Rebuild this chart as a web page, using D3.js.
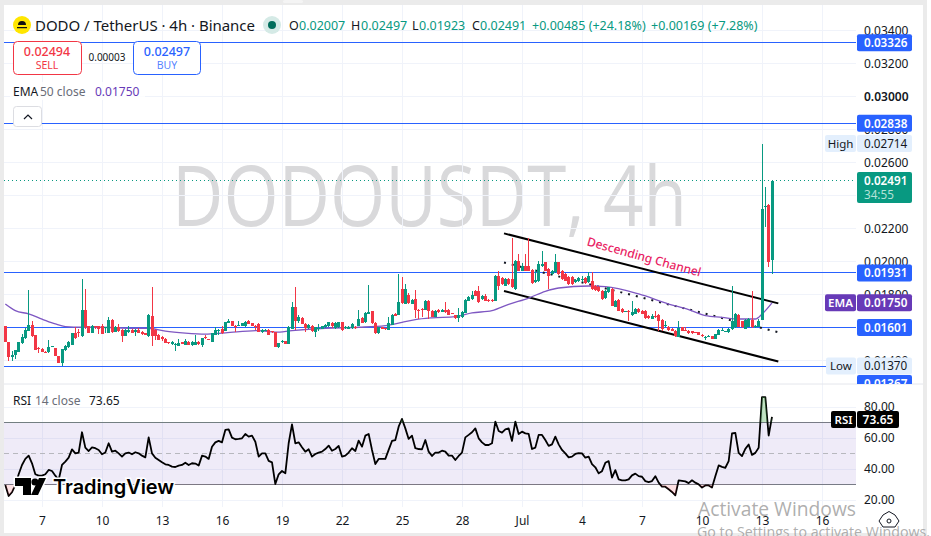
<!DOCTYPE html>
<html>
  <head>
    <meta charset="UTF-8">
    <title>DODOUSDT 4h</title>
    <style>
      html, body {margin: 0; padding: 0; background: #fff; overflow: hidden}
      svg {display: block; font-family: "Noto Sans", "Open Sans", sans-serif}
      .tick line {display: none}
      .domain {display: none}
      .axis text {font-size: 12px; fill: #131722; font-family: "Noto Sans", sans-serif}
    </style>
  </head>
  <body>
    <div id="chart"></div>
    <script src="https://d3js.org/d3.v7.min.js"></script>
    <script>

// prices are in units of 0.00001, first candle is index -11, index 0 = the "7" tick
const firstIndex = -11;
const opens = [1612,1515,1420,1436,1455,1505,1537,1582,1618,1558,1475,
  1471,1455,1450,1483,1477,1430,1384,1467,1481,1495,
  1566,1575,1551,1709,1608,1568,1610,1608,1608,1600,
  1568,1648,1576,1606,1586,1551,1572,1588,1572,1588,
  1576,1566,1551,1673,1588,1557,1545,1533,1511,1501,
  1499,1491,1513,1497,1515,1493,1497,1515,1495,1543,
  1530,1515,1558,1584,1592,1582,1630,1638,1612,1610,
  1610,1608,1638,1628,1612,1622,1572,1584,1586,1578,
  1572,1481,1515,1517,1501,1592,1727,1642,1659,1622,
  1596,1612,1572,1592,1594,1602,1608,1630,1596,1602,
  1632,1598,1592,1596,1606,1612,1658,1632,1683,1699,
  1628,1566,1602,1598,1586,1618,1683,1679,1834,1743,
  1800,1743,1774,1709,1711,1709,1764,1703,1667,1709,
  1697,1707,1707,1687,1677,1659,1663,1689,1764,1774,
  1824,1820,1774,1794,1770,1768,1763,1915,1900,1854,
  1894,1894,1834,2006,1945,1975,1975,1949,1874,1880,
  1975,1995,1955,1925,1935,1995,1945,1925,1905,1905,
  1874,1880,1893,1900,1874,1884,1854,1848,1824,1777,
  1814,1834,1727,1767,1713,1696,1703,1676,1682,1713,
  1703,1703,1672,1652,1672,1678,1646,1611,1606,1592,
  1581,1545,1602,1586,1581,1577,1572,1571,1557,1543,
  1549,1547,1533,1557,1584,1575,1571,1591,1601,1678,
  1638,1592,1606,1646,1602,1606,1646,2328,2345,2007];
const closes = [1511,1420,1436,1467,1515,1545,1588,1618,1551,1467,1469,
  1450,1454,1485,1487,1426,1384,1471,1491,1511,1568,
  1537,1572,1709,1602,1568,1612,1606,1592,1562,1604,
  1648,1572,1606,1578,1551,1586,1588,1568,1588,1570,
  1560,1558,1679,1549,1551,1527,1529,1505,1508,1515,
  1503,1507,1501,1517,1497,1513,1515,1499,1535,1535,
  1529,1566,1586,1587,1566,1632,1638,1612,1608,1613,
  1628,1632,1622,1612,1610,1572,1588,1587,1558,1572,
  1481,1505,1517,1501,1602,1727,1642,1663,1622,1598,
  1618,1578,1602,1596,1608,1616,1632,1608,1628,1632,
  1586,1602,1606,1622,1596,1652,1630,1689,1693,1626,
  1566,1602,1592,1590,1626,1679,1673,1753,1747,1834,
  1747,1770,1709,1703,1708,1764,1703,1667,1703,1693,
  1709,1693,1677,1686,1657,1677,1697,1770,1784,1798,
  1794,1753,1794,1764,1762,1760,1915,1854,1864,1894,
  1864,1844,2006,1945,1975,1945,1945,1870,1888,1985,
  1985,1945,1915,1945,1995,1925,1895,1884,1864,1864,
  1888,1900,1895,1870,1915,1834,1828,1820,1773,1824,
  1844,1733,1763,1703,1692,1699,1692,1692,1713,1692,
  1682,1658,1658,1672,1666,1642,1592,1613,1585,1581,
  1551,1598,1581,1584,1565,1565,1570,1557,1547,1546,
  1551,1531,1561,1585,1586,1578,1591,1642,1682,1606,
  1602,1646,1652,1602,1612,1642,2321,2340,2000,2491];
const highs = [1612,1515,1457,1467,1515,1560,1596,1830,1642,1558,1485,
  1475,1460,1527,1490,1477,1430,1471,1495,1517,1570,
  1602,1592,1895,1834,1612,1614,1612,1610,1622,1606,
  1663,1654,1612,1622,1590,1590,1608,1592,1592,1598,
  1580,1570,1681,1848,1592,1560,1548,1537,1513,1519,
  1507,1531,1515,1531,1517,1517,1558,1519,1537,1558,
  1533,1570,1606,1590,1612,1634,1652,1642,1614,1642,
  1630,1642,1646,1630,1616,1628,1592,1590,1590,1582,
  1574,1507,1525,1520,1610,1756,1848,1679,1665,1625,
  1622,1616,1606,1622,1612,1620,1636,1634,1632,1636,
  1636,1610,1610,1626,1612,1709,1662,1692,1861,1703,
  1632,1606,1606,1600,1663,1681,1690,1925,1905,1865,
  1810,1775,1828,1715,1716,1768,1768,1707,1707,1715,
  1713,1753,1711,1690,1679,1719,1701,1774,1790,1824,
  1828,1854,1798,1804,1774,1772,1918,1945,1905,1898,
  1898,2143,2010,2046,1990,2046,2143,1955,1950,2006,
  2066,1999,1960,1950,2046,1999,1949,1930,1910,1910,
  1892,1905,1915,1905,1935,1935,1858,1852,1828,1828,
  1848,1838,1767,1771,1717,1703,1707,1763,1717,1717,
  1707,1707,1676,1680,1703,1682,1650,1642,1610,1596,
  1585,1642,1606,1602,1585,1581,1575,1575,1560,1550,
  1555,1552,1563,1592,1598,1581,1595,1854,1686,1682,
  1642,1650,1660,1824,1616,1650,2715,2455,2348,2497];
const lows = [1511,1400,1400,1410,1450,1500,1530,1577,1545,1467,1444,
  1450,1450,1448,1480,1426,1384,1370,1460,1478,1492,
  1531,1541,1541,1592,1565,1565,1592,1562,1562,1566,
  1566,1566,1572,1575,1511,1548,1570,1565,1551,1566,
  1558,1555,1541,1491,1525,1525,1520,1505,1503,1497,
  1461,1489,1499,1495,1495,1491,1495,1497,1481,1533,
  1527,1513,1556,1558,1564,1580,1628,1610,1576,1608,
  1608,1606,1620,1610,1588,1572,1570,1582,1555,1570,
  1481,1479,1505,1499,1499,1590,1586,1626,1620,1572,
  1594,1576,1545,1582,1592,1600,1604,1600,1594,1600,
  1582,1590,1590,1594,1592,1610,1628,1630,1680,1622,
  1560,1564,1590,1588,1584,1616,1670,1677,1743,1741,
  1745,1741,1659,1653,1663,1707,1653,1665,1665,1690,
  1695,1690,1675,1684,1655,1636,1661,1687,1760,1770,
  1790,1750,1770,1760,1758,1757,1760,1830,1860,1850,
  1860,1840,1830,1941,1941,1941,1941,1866,1870,1878,
  1970,1941,1834,1920,1930,1920,1890,1880,1860,1860,
  1870,1878,1874,1866,1870,1830,1824,1816,1770,1775,
  1810,1731,1725,1700,1690,1694,1642,1672,1680,1690,
  1680,1655,1655,1650,1660,1581,1581,1605,1582,1578,
  1541,1543,1578,1582,1562,1562,1568,1555,1545,1525,
  1545,1530,1531,1555,1582,1573,1568,1588,1598,1602,
  1598,1590,1604,1598,1600,1604,1644,2212,1970,1923];

// EMA 50 read at these candle indexes
const emaIndex = [-11,-8,-4,0,4,7,12,17,27,32,37,43,49,55,65,70,75,85,95,103,108,112,117,124,129,135,140,146,151,155,164,169,179,188,194,199,204,209,214,216,219];
const emaValues = [1743,1703,1683,1652,1622,1606,1602,1602,1596,1596,1578,1566,1560,1568,1582,1572,1582,1596,1602,1612,1632,1648,1659,1667,1689,1703,1741,1779,1820,1840,1852,1848,1804,1743,1709,1672,1662,1652,1652,1682,1750];

const rsi = [29.7,22.6,25,29.7,36.6,42.6,46.5,48.6,43.7,36.6,35.7,
  35.7,36.6,39.4,38.7,35.7,32.9,42.6,44.8,47.3,52.7,
  50.1,50.6,63.7,53.8,51.6,54,53.4,52.3,49.5,50.6,
  56.6,51.2,51.8,50.1,48,50.1,50.6,49.5,50.8,50.1,
  48.6,47.5,60.4,50.1,47.3,45.8,44.3,43,42.6,41.5,
  41.3,42.2,42.6,44.1,42.6,43.7,43.5,42.2,48.6,48,
  46.5,54.4,57.2,58.1,57.2,65.2,65.6,60.2,59.2,59.4,
  59.8,62.6,60.9,61.5,57.6,48,50.1,50.1,45.2,44.3,
  30.3,36.6,38.7,37.2,56.6,68.8,56.6,57.2,54,51.2,
  52.7,48,49.7,50.6,51.2,52.9,55.1,51.8,52.9,54.9,
  48,48.6,50.6,53.4,51.6,58.3,54.4,61.5,62.6,52.3,
  43.2,46.5,46.5,46.5,52.3,58.1,58.7,67.3,72.3,66.2,
  59.4,61.5,53.4,52.9,52.7,58.7,51.2,48.4,50.6,50.6,
  51.8,51.2,48.6,48.6,45.8,48.4,50.6,60.4,62,63.7,
  66.2,59.8,57.2,55.5,55.5,56.6,70.6,64.5,63.5,65.6,
  66.2,58.1,70.6,62.6,64.1,63,62.6,52.9,53.8,62,
  62,58.7,54.9,55.9,60.9,55.9,52.3,50.1,47.5,48,
  49.7,50.3,50.1,47.3,48,43.2,41.1,37.2,38.6,44,
  45.1,34.4,39.3,33.3,32.7,32.7,33.3,35.9,37,35.4,
  35,32.2,31.6,32.2,35.4,31.2,28.6,28.6,26.9,25.2,
  23,32.7,32.4,32,30.9,32.7,31.2,30.1,28,29.4,
  29.4,28,35.4,42.3,41.4,40.8,45.1,62.9,63.3,50.4,
  48.3,53,55.8,49.1,50.4,53.7,86.4,86.4,61.6,73.65];

// price axis, time axis, rsi axis
const priceTicks = [0.034,0.032,0.030,0.028,0.026,0.024,0.022,0.020,0.018,0.016,0.014];
const timeTickIndex = [0,18,36,54,72,90,108,126,144,162,180,198,216,234];
const timeTickLabels = ["7","10","13","16","19","22","25","28","Jul","4","7","10","13","16"];
const rsiTicks = [80,60,40,20];
const levels = [0.03326,0.02838,0.01931,0.01601,0.01367];

const width = 931, height = 536;
const paneLeft = 4, chartRight = 856, panelRight = 923, paneTop = 5, sep = 384, rsiBottom = 507, panelBottom = 533;
const green = "#089981", red = "#f23645", blue = "#2962ff", purple = "#673ab7";

const svg = d3.select("#chart").append("svg").attr("width", width).attr("height", height);

const x = d3.scaleLinear().domain([0, 72]).range([42, 282]);
const y = d3.scaleLinear().domain([0.034, 0.014]).range([30.6, 360.6]);
const yr = d3.scaleLinear().domain([80, 20]).range([407, 500]);

// page frame
svg.append("rect").attr("width", width).attr("height", height).attr("fill", "#fff");
svg.append("rect").attr("width", paneLeft).attr("height", height).attr("fill", "#ebebeb");
svg.append("rect").attr("width", 927).attr("height", paneTop).attr("fill", "#ebebeb");
svg.append("rect").attr("x", 283).attr("width", 20).attr("height", 3).attr("rx", 1.5).attr("fill", "#f4f4f4");
svg.append("rect").attr("y", panelBottom).attr("width", 927).attr("height", 3).attr("fill", "#ebebeb");
svg.append("rect").attr("x", panelRight).attr("width", 4).attr("height", height).attr("fill", "#ebebeb");

svg.append("clipPath").attr("id", "pane").append("rect")
  .attr("x", paneLeft).attr("y", paneTop).attr("width", chartRight - paneLeft).attr("height", sep - paneTop);
svg.append("clipPath").attr("id", "rsipane").append("rect")
  .attr("x", paneLeft).attr("y", sep).attr("width", chartRight - paneLeft).attr("height", rsiBottom - sep);
svg.append("clipPath").attr("id", "ob").append("rect")
  .attr("x", paneLeft).attr("y", sep).attr("width", chartRight - paneLeft).attr("height", yr(70) - sep);
svg.append("clipPath").attr("id", "os").append("rect")
  .attr("x", paneLeft).attr("y", yr(30)).attr("width", chartRight - paneLeft).attr("height", rsiBottom - yr(30));

// watermark
svg.append("text").attr("x", 172).attr("y", 226)
  .attr("font-size", 84).attr("fill", "#d9d9db").attr("font-family", "Open Sans")
  .attr("textLength", 515).attr("lengthAdjust", "spacingAndGlyphs")
  .text("DODOUSDT, 4h");

// grid
const grid = svg.append("g").attr("stroke", "#f0f3fa").attr("stroke-width", 1).attr("shape-rendering", "crispEdges");
grid.selectAll("line").data(timeTickIndex).join("line")
  .attr("x1", d => x(d)).attr("x2", d => x(d)).attr("y1", paneTop).attr("y2", rsiBottom);
const gridH = svg.append("g").attr("stroke", "#f0f3fa").attr("stroke-width", 1).attr("shape-rendering", "crispEdges");
gridH.selectAll("line").data(priceTicks).join("line")
  .attr("x1", paneLeft).attr("x2", chartRight).attr("y1", d => y(d)).attr("y2", d => y(d));
const gridR = svg.append("g").attr("stroke", "#f0f3fa").attr("stroke-width", 1).attr("shape-rendering", "crispEdges");
gridR.selectAll("line").data(rsiTicks).join("line")
  .attr("x1", paneLeft).attr("x2", chartRight).attr("y1", d => yr(d)).attr("y2", d => yr(d));

const pane = svg.append("g").attr("clip-path", "url(#pane)");

// horizontal levels
pane.selectAll(".lvl").data(levels).join("line")
  .attr("x1", paneLeft).attr("x2", chartRight)
  .attr("y1", d => y(d)).attr("y2", d => y(d))
  .attr("stroke", blue).attr("stroke-width", 1).attr("shape-rendering", "crispEdges");

pane.append("line")
  .attr("x1", paneLeft).attr("x2", chartRight)
  .attr("y1", y(0.02491)).attr("y2", y(0.02491))
  .attr("stroke", green).attr("stroke-dasharray", "1 3").attr("shape-rendering", "crispEdges");

// channel
const channelIndex = [138.6, 220.9];
const channelUpper = [0.02171, 0.01747];
const channelLower = [0.01822, 0.01394];
const channelMid = [0.01994, 0.01572];
[channelUpper, channelLower].forEach(c => {
  pane.append("line")
    .attr("x1", x(channelIndex[0])).attr("x2", x(channelIndex[1]))
    .attr("y1", y(c[0])).attr("y2", y(c[1]))
    .attr("stroke", "#000").attr("stroke-width", 2);
});
pane.append("line")
  .attr("x1", x(channelIndex[0])).attr("x2", x(channelIndex[1]))
  .attr("y1", y(channelMid[0])).attr("y2", y(channelMid[1]))
  .attr("stroke", "#131722").attr("stroke-width", 2).attr("stroke-dasharray", "2 6");

// ema
const emaLine = d3.line().x((d, i) => x(emaIndex[i])).y(d => y(d / 1e5)).curve(d3.curveMonotoneX);
pane.append("path").attr("d", emaLine(emaValues)).attr("fill", "none")
  .attr("stroke", "#7e57c2").attr("stroke-width", 1.3);

// candles
const candles = opens.map((o, i) => ({i: i + firstIndex, o: o / 1e5, c: closes[i] / 1e5, h: highs[i] / 1e5, l: lows[i] / 1e5}));
const colour = d => d.c >= d.o ? green : red;
const candleLayer = pane.append("g").attr("shape-rendering", "crispEdges");
candleLayer.selectAll(".wick").data(candles).join("line").attr("class", "wick")
  .attr("x1", d => x(d.i)).attr("x2", d => x(d.i))
  .attr("y1", d => y(d.h)).attr("y2", d => y(d.l))
  .attr("stroke", colour).attr("stroke-width", 1);
candleLayer.selectAll(".body").data(candles).join("rect").attr("class", "body")
  .attr("x", d => x(d.i) - 1.5).attr("width", 3)
  .attr("y", d => y(Math.max(d.o, d.c)))
  .attr("height", d => Math.max(1, Math.abs(y(d.o) - y(d.c))))
  .attr("fill", colour);

svg.append("text")
  .attr("transform", "translate(643,261) rotate(15.5)")
  .attr("text-anchor", "middle").attr("font-size", 12).attr("font-weight", 500)
  .attr("fill", "#e91e63").text("Descending Channel");

// rsi pane
const rsiPane = svg.append("g").attr("clip-path", "url(#rsipane)");
rsiPane.append("rect").attr("x", paneLeft).attr("width", chartRight - paneLeft)
  .attr("y", yr(70)).attr("height", yr(30) - yr(70)).attr("fill", "#7e57c2").attr("fill-opacity", 0.12);
[70, 30].forEach(v => {
  rsiPane.append("line").attr("x1", paneLeft).attr("x2", chartRight).attr("y1", yr(v)).attr("y2", yr(v))
    .attr("stroke", "#787b86").attr("shape-rendering", "crispEdges");
});
rsiPane.append("line").attr("x1", paneLeft).attr("x2", chartRight).attr("y1", yr(50)).attr("y2", yr(50))
  .attr("stroke", "#b7b8be").attr("stroke-dasharray", "5 4").attr("shape-rendering", "crispEdges");

const rsiArea = level => d3.area().x((d, i) => x(i + firstIndex)).y0(yr(level)).y1(d => yr(d));
svg.append("path").attr("clip-path", "url(#ob)").attr("d", rsiArea(70)(rsi)).attr("fill", "#4caf50").attr("fill-opacity", 0.35);
svg.append("path").attr("clip-path", "url(#os)").attr("d", rsiArea(30)(rsi)).attr("fill", "#f23645").attr("fill-opacity", 0.15);

const rsiLine = d3.line().x((d, i) => x(i + firstIndex)).y(d => yr(d));
rsiPane.append("path").attr("d", rsiLine(rsi)).attr("fill", "none")
  .attr("stroke", "#000").attr("stroke-width", 1.8).attr("stroke-linejoin", "round");

// axes
const priceAxis = svg.append("g").attr("class", "axis")
  .attr("transform", "translate(858,0)")
  .call(d3.axisRight(y).tickValues(priceTicks).tickSize(0).tickPadding(6).tickFormat(d3.format(".5f")));
priceAxis.selectAll("text").filter(d => d === 0.03).attr("font-weight", 600);
svg.append("g").attr("class", "axis")
  .attr("transform", "translate(858,0)")
  .call(d3.axisRight(yr).tickValues(rsiTicks).tickSize(0).tickPadding(6).tickFormat(d3.format(".2f")));
svg.append("g").attr("class", "axis")
  .attr("transform", "translate(0,509)")
  .call(d3.axisBottom(x).tickValues(timeTickIndex).tickSize(0).tickPadding(7)
    .tickFormat((d, i) => timeTickLabels[i]));
svg.append("line").attr("x1", paneLeft).attr("x2", panelRight).attr("y1", sep).attr("y2", sep).attr("stroke", "#e4e6ec");

// price tags
function tag(group, text, cy, fill, ink, weight) {
  group.append("rect").attr("x", 857).attr("y", cy - 8.5).attr("width", 55).attr("height", 17).attr("rx", 2).attr("fill", fill);
  group.append("text").attr("x", 864).attr("y", cy + 4.3).attr("font-size", 11.7)
    .attr("font-weight", weight).attr("fill", ink).text(text);
}
function sideTag(group, text, cy, fill, ink, x0) {
  group.append("rect").attr("x", x0).attr("y", cy - 8.5).attr("width", 856 - x0).attr("height", 17).attr("rx", 2).attr("fill", fill);
  group.append("text").attr("x", (x0 + 856) / 2).attr("y", cy + 4.3).attr("text-anchor", "middle")
    .attr("font-size", 11.5).attr("font-weight", ink === "#fff" ? 600 : 400).attr("fill", ink).text(text);
}
svg.append("clipPath").attr("id", "tagclip").append("rect")
  .attr("x", 820).attr("y", paneTop).attr("width", panelRight - 820).attr("height", sep - paneTop);
const tags = svg.append("g").attr("clip-path", "url(#tagclip)");

[0.03326, 0.02838, 0.01931, 0.01601].forEach(p => tag(tags, d3.format(".5f")(p), y(p), blue, "#fff", 600));
sideTag(tags, "High", 143.5, "#e3effd", "#131722", 825);
tag(tags, "0.02714", 143.5, "#e3effd", "#131722", 400);
sideTag(tags, "EMA", y(0.0175), purple, "#fff", 825);
tag(tags, "0.01750", y(0.0175), purple, "#fff", 600);
tag(tags, "0.01367", 383.5, blue, "#fff", 600);
sideTag(tags, "Low", 366, "#e3effd", "#131722", 826);
tag(tags, "0.01370", 366, "#e3effd", "#131722", 400);

tags.append("rect").attr("x", 857).attr("y", 172).attr("width", 55).attr("height", 31).attr("rx", 2).attr("fill", green);
tags.append("text").attr("x", 864).attr("y", 185).attr("font-size", 11.7).attr("font-weight", 600).attr("fill", "#fff").text("0.02491");
tags.append("text").attr("x", 864).attr("y", 199).attr("font-size", 11.7).attr("fill", "#b4e2d8").text("34:55");

svg.append("rect").attr("x", 831).attr("y", 411).attr("width", 25).attr("height", 17).attr("rx", 2).attr("fill", "#000");
svg.append("text").attr("x", 843.5).attr("y", 424).attr("text-anchor", "middle").attr("font-size", 11.5).attr("font-weight", 600).attr("fill", "#fff").text("RSI");
svg.append("rect").attr("x", 857).attr("y", 411).attr("width", 42).attr("height", 17).attr("rx", 2).attr("fill", "#000");
svg.append("text").attr("x", 878).attr("y", 424).attr("text-anchor", "middle").attr("font-size", 12).attr("font-weight", 600).attr("fill", "#fff").text("73.65");

// header
svg.append("circle").attr("cx", 22).attr("cy", 25).attr("r", 9).attr("fill", "#ffe600");
svg.append("path").attr("d", "M18 25 a4 4 0 0 1 8 0 z M17 27 h10 v1.3 h-10 z").attr("fill", "#111");
svg.append("text").attr("x", 35).attr("y", 31).attr("font-size", 15).attr("fill", "#131722")
  .attr("textLength", 220).text("DODO / TetherUS · 4h · Binance");
svg.append("circle").attr("cx", 272).attr("cy", 25).attr("r", 9).attr("fill", "#d5eae6");
svg.append("circle").attr("cx", 272).attr("cy", 25).attr("r", 4).attr("fill", "#006d5b");

const headerLabels = ["O", "H", "L", "C"];
const headerLabelX = [289, 351, 412, 472];
const headerValues = ["0.02007", "0.02497", "0.01923", "0.02491", "+0.00485 (+24.18%)", "+0.00169 (+7.28%)"];
const headerValueX = [299, 361, 419, 480, 532, 651];
headerLabels.forEach((t, i) => {
  svg.append("text").attr("x", headerLabelX[i]).attr("y", 30).attr("font-size", 12.5).attr("fill", "#131722").text(t);
});
headerValues.forEach((t, i) => {
  svg.append("text").attr("x", headerValueX[i]).attr("y", 30).attr("font-size", 12.5).attr("fill", green).text(t);
});

// sell / buy
svg.append("rect").attr("x", 13.5).attr("y", 41.5).attr("width", 68).attr("height", 33).attr("rx", 4).attr("fill", "#fff").attr("stroke", red);
svg.append("rect").attr("x", 133.5).attr("y", 41.5).attr("width", 67).attr("height", 33).attr("rx", 4).attr("fill", "#fff").attr("stroke", blue);
svg.append("text").attr("x", 47).attr("y", 56).attr("text-anchor", "middle").attr("font-size", 12.5).attr("font-weight", 500).attr("fill", red).text("0.02494");
svg.append("text").attr("x", 47).attr("y", 69).attr("text-anchor", "middle").attr("font-size", 10.5).attr("fill", red).text("SELL");
svg.append("text").attr("x", 107).attr("y", 61).attr("text-anchor", "middle").attr("font-size", 10).attr("fill", "#131722").text("0.00003");
svg.append("text").attr("x", 167).attr("y", 56).attr("text-anchor", "middle").attr("font-size", 12.5).attr("font-weight", 500).attr("fill", blue).text("0.02497");
svg.append("text").attr("x", 167).attr("y", 69).attr("text-anchor", "middle").attr("font-size", 10.5).attr("fill", blue).attr("fill-opacity", 0.8).text("BUY");

// indicator legends
svg.append("rect").attr("x", 10).attr("y", 82).attr("width", 135).attr("height", 18).attr("fill", "#fff").attr("fill-opacity", 0.8);
svg.append("text").attr("x", 13).attr("y", 96).attr("font-size", 12).attr("fill", "#131722").text("EMA");
svg.append("text").attr("x", 40).attr("y", 96).attr("font-size", 12).attr("fill", "#6a6d78").text("50 close");
svg.append("text").attr("x", 95).attr("y", 96).attr("font-size", 12).attr("fill", purple).text("0.01750");
svg.append("rect").attr("x", 13.5).attr("y", 106.5).attr("width", 28).attr("height", 20).attr("rx", 3).attr("fill", "#fff").attr("stroke", "#dcdde2");
svg.append("path").attr("d", "M24 119 l4 -4 l4 4").attr("fill", "none").attr("stroke", "#131722").attr("stroke-width", 1.2);

svg.append("text").attr("x", 13).attr("y", 405).attr("font-size", 12).attr("fill", "#131722").text("RSI");
svg.append("text").attr("x", 35).attr("y", 405).attr("font-size", 12).attr("fill", "#6a6d78").text("14 close");
svg.append("text").attr("x", 89).attr("y", 405).attr("font-size", 12).attr("fill", "#131722").text("73.65");

// tradingview logo
const logo = svg.append("g");
logo.append("path").attr("d", "M15 478 h16 v17 h-8 v-9 h-8 z M39 478 h7 l-8 17 h-7 z").attr("fill", "#000")
  .attr("stroke", "#fff").attr("stroke-width", 3).attr("paint-order", "stroke");
logo.append("circle").attr("cx", 35).attr("cy", 482).attr("r", 3.6).attr("fill", "#000");
logo.append("text").attr("x", 53).attr("y", 494).attr("font-size", 20).attr("font-weight", 600)
  .attr("fill", "#000").attr("stroke", "#fff").attr("stroke-width", 3).attr("paint-order", "stroke")
  .attr("font-family", "Inter").attr("textLength", 121).text("TradingView");

// settings icon
svg.append("path").attr("d", "M883 515 l6 -3.5 l6 3.5 l4 6 l-4 6 h-12 l-4 -6 z").attr("fill", "none").attr("stroke", "#131722");
svg.append("circle").attr("cx", 889).attr("cy", 521).attr("r", 2).attr("fill", "none").attr("stroke", "#131722");

// windows activation watermark
svg.append("text").attr("x", 698).attr("y", 516).attr("font-size", 20.5).attr("fill", "#999").attr("fill-opacity", 0.8)
  .attr("font-family", "Open Sans").attr("textLength", 158).attr("lengthAdjust", "spacingAndGlyphs").text("Activate Windows");
svg.append("text").attr("x", 697).attr("y", 537).attr("font-size", 14.5).attr("fill", "#999").attr("fill-opacity", 0.8)
  .attr("font-family", "Open Sans").attr("textLength", 233).attr("lengthAdjust", "spacingAndGlyphs").text("Go to Settings to activate Windows.");

 </script>
  </body>
</html>
